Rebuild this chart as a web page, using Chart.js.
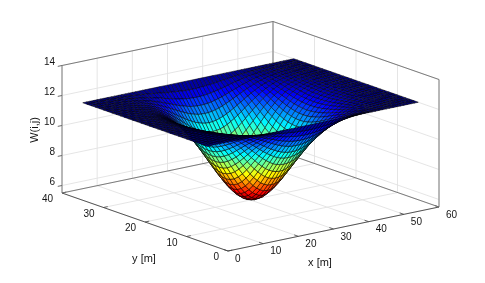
<!DOCTYPE html>
<html><head><meta charset="utf-8">
<style>html,body{margin:0;padding:0;background:#fff}canvas{display:block;filter:blur(0.35px)}</style>
<script src="https://cdn.jsdelivr.net/npm/chart.js@4"></script>
</head><body><canvas id="c" width="485" height="283"></canvas>
<script>
const xTicks=[0,10,20,30,40,50,60];
const yTicks=[0,10,20,30,40];
const zTicks=[6,8,10,12,14];
const xLabel='x [m]', yLabel='y [m]', zLabel='W(i,j)';
const xValues=[0,1,2,3,4,5,6,7,8,9,10,11,12,13,14,15,16,17,18,19,20,21,22,23,24,25,26,27,28,29,30,31,32,33,34,35,36,37,38,39,40,41,42,43,44,45,46,47,48,49,50,51,52,53,54,55,56,57,58,59,60];
const yValues=[5,6,7,8,9,10,11,12,13,14,15,16,17,18,19,20,21,22,23,24,25,26,27,28,29,30,31,32,33,34,35];
// W; rows = metres from the centre line in y (0..15), columns = metres from the centre line in x (0..30)
const W0=[5.55,5.59,5.71,5.91,6.17,6.49,6.86,7.26,7.69,8.13,8.56,8.99,9.40,9.77,10.12,10.44,10.71,10.96,11.16,11.34,11.48,11.60,11.69,11.77,11.83,11.87,11.91,11.93,11.95,11.97,12];
const W1=[5.62,5.66,5.78,5.97,6.23,6.55,6.91,7.32,7.74,8.17,8.60,9.02,9.43,9.80,10.14,10.45,10.73,10.97,11.17,11.34,11.49,11.60,11.70,11.77,11.83,11.88,11.91,11.94,11.95,11.97,12];
const W2=[5.81,5.85,5.96,6.15,6.40,6.71,7.07,7.45,7.86,8.28,8.70,9.11,9.50,9.86,10.20,10.50,10.77,11.00,11.20,11.36,11.50,11.62,11.71,11.78,11.84,11.88,11.91,11.94,11.96,11.97,12];
const W3=[6.12,6.16,6.27,6.44,6.68,6.98,7.31,7.68,8.07,8.47,8.87,9.26,9.63,9.97,10.29,10.58,10.83,11.05,11.24,11.39,11.53,11.64,11.72,11.79,11.84,11.89,11.92,11.94,11.96,11.97,12];
const W4=[6.53,6.56,6.67,6.83,7.05,7.33,7.64,7.98,8.34,8.72,9.09,9.45,9.79,10.11,10.41,10.67,10.91,11.11,11.29,11.44,11.56,11.66,11.74,11.80,11.85,11.89,11.92,11.94,11.96,11.97,12];
const W5=[7.01,7.04,7.13,7.28,7.49,7.74,8.02,8.34,8.67,9.00,9.34,9.67,9.99,10.28,10.55,10.79,11.01,11.19,11.35,11.49,11.60,11.69,11.76,11.82,11.87,11.90,11.93,11.95,11.96,11.98,12];
const W6=[7.55,7.58,7.66,7.80,7.98,8.20,8.45,8.73,9.03,9.33,9.63,9.92,10.20,10.46,10.71,10.92,11.11,11.28,11.42,11.54,11.64,11.72,11.79,11.84,11.88,11.91,11.94,11.96,11.97,11.98,12];
const W7=[8.10,8.12,8.20,8.31,8.47,8.67,8.89,9.14,9.39,9.66,9.92,10.18,10.43,10.65,10.87,11.06,11.22,11.37,11.49,11.60,11.69,11.76,11.81,11.86,11.90,11.92,11.95,11.96,11.97,11.98,12];
const W8=[8.66,8.68,8.74,8.84,8.98,9.15,9.34,9.55,9.77,10.00,10.22,10.44,10.65,10.85,11.03,11.19,11.33,11.46,11.57,11.66,11.73,11.79,11.84,11.88,11.91,11.93,11.95,11.97,11.98,11.98,12];
const W9=[9.20,9.22,9.27,9.35,9.47,9.61,9.77,9.94,10.13,10.32,10.51,10.69,10.87,11.03,11.19,11.32,11.44,11.55,11.64,11.71,11.77,11.83,11.87,11.90,11.93,11.95,11.96,11.97,11.98,11.99,12];
const W10=[9.69,9.70,9.75,9.82,9.91,10.03,10.16,10.30,10.46,10.61,10.77,10.92,11.07,11.20,11.33,11.44,11.54,11.63,11.70,11.76,11.81,11.86,11.89,11.92,11.94,11.95,11.97,11.98,11.98,11.99,12];
const W11=[10.20,10.21,10.24,10.30,10.37,10.46,10.57,10.68,10.80,10.92,11.04,11.16,11.27,11.38,11.48,11.56,11.64,11.71,11.77,11.81,11.85,11.89,11.91,11.94,11.95,11.96,11.97,11.98,11.99,11.99,12];
const W12=[10.65,10.66,10.68,10.72,10.78,10.85,10.92,11.01,11.10,11.19,11.28,11.37,11.46,11.53,11.61,11.67,11.73,11.78,11.82,11.86,11.89,11.92,11.94,11.95,11.96,11.97,11.98,11.99,11.99,11.99,12];
const W13=[11.09,11.10,11.11,11.14,11.18,11.22,11.27,11.33,11.39,11.45,11.52,11.58,11.63,11.69,11.74,11.78,11.82,11.85,11.88,11.91,11.93,11.94,11.96,11.97,11.98,11.98,11.99,11.99,12,12,12];
const W14=[11.53,11.53,11.54,11.56,11.58,11.60,11.63,11.65,11.69,11.72,11.75,11.78,11.81,11.84,11.86,11.89,11.91,11.92,11.94,11.95,11.96,11.97,11.98,11.98,11.99,11.99,12,12,12,12,12];
const W15=[12,12,12,12,12,12,12,12,12,12,12,12,12,12,12,12,12,12,12,12,12,12,12,12,12,12,12,12,12,12,12];
const quarter=[W0,W1,W2,W3,W4,W5,W6,W7,W8,W9,W10,W11,W12,W13,W14,W15];

const Z0=5.5, Wtop=12, Wlow=5.55;
function project(x,y,z){
  return {x:228+x*211/60-y*166/40, y:251-x*44/60-y*58/40-(z-Z0)*15};
}
function wAt(i,j){ return quarter[Math.abs(yValues[j]-20)][Math.abs(xValues[i]-30)]; }
function jet(c){
  const f=(v)=>Math.round(255*Math.max(0,Math.min(1,1.5-Math.abs(4*c-v))));
  return `rgb(${f(3)},${f(2)},${f(1)})`;
}
function seg(points,color,width){
  return {data:points,borderColor:color,borderWidth:width,pointRadius:0,fill:false,tension:0,clip:false};
}
const quads=[];
for(let j=0;j<yValues.length-1;j++){
  for(let i=0;i<xValues.length-1;i++){
    const cs=[[i,j],[i+1,j],[i+1,j+1],[i,j+1]];
    let sum=0; const pts=[];
    for(const [a,b] of cs){const w=wAt(a,b); sum+=w; pts.push(project(xValues[a],yValues[b],w));}
    pts.push(pts[0]);
    const mean=sum/4;
    const mx=(xValues[i]+xValues[i+1])/2,my=(yValues[j]+yValues[j+1])/2;
    quads.push({depth:4.15*mx+3.517*my-0.543*mean,
      ds:{data:pts,borderColor:'rgba(0,0,0,0.85)',borderWidth:0.6,backgroundColor:jet((Wtop-mean)/(Wtop-Wlow)),
          fill:'shape',pointRadius:0,tension:0,clip:false}});
  }
}
quads.sort((a,b)=>a.depth-b.depth);
const datasets=quads.map(q=>q.ds);

const GRID='#e2e2e2', BOX='#6f6f6f', AXIS='#444444';
const xMax=60,yMax=40,zMax=14;
const back=[];
for(const t of xTicks){
  back.push(seg([project(t,0,Z0),project(t,yMax,Z0),project(t,yMax,zMax)],GRID,0.9));
}
for(const t of yTicks){
  back.push(seg([project(0,t,Z0),project(xMax,t,Z0),project(xMax,t,zMax)],GRID,0.9));
}
for(const t of zTicks){
  back.push(seg([project(0,yMax,t),project(xMax,yMax,t),project(xMax,0,t)],GRID,0.9));
}
const box=[
  seg([project(0,yMax,zMax),project(xMax,yMax,zMax),project(xMax,0,zMax)],BOX,0.9),
  seg([project(0,yMax,Z0),project(0,yMax,zMax)],BOX,0.9),
  seg([project(xMax,yMax,Z0),project(xMax,yMax,zMax)],BOX,0.9),
  seg([project(xMax,0,Z0),project(xMax,0,zMax)],BOX,0.9),
  seg([project(0,yMax,Z0),project(xMax,yMax,Z0),project(xMax,0,Z0)],BOX,0.9),
  seg([project(0,yMax,Z0),project(0,0,Z0),project(xMax,0,Z0)],AXIS,0.9)
];
for(const t of xTicks) box.push(seg([project(t,0,Z0),project(t,1,Z0)],AXIS,0.8));
for(const t of yTicks) box.push(seg([project(0,t,Z0),project(1.2,t,Z0)],AXIS,0.8));
for(const t of zTicks) box.push(seg([project(0,yMax,t),project(-1.2,yMax,t)],AXIS,0.8));
datasets.push(...box,...back);

const labels3d={id:'labels3d',afterDraw(chart){
  const {ctx,scales:{x:sx,y:sy}}=chart;
  const at=(p)=>({x:sx.getPixelForValue(p.x),y:sy.getPixelForValue(p.y)});
  ctx.save();
  ctx.fillStyle='#141414';
  ctx.font='10px "Liberation Sans", Arial, sans-serif';
  ctx.textBaseline='middle';
  ctx.textAlign='left';
  for(const t of xTicks){const p=at(project(t,0,Z0));ctx.fillText(String(t),p.x+7,p.y+8);}
  ctx.textAlign='right';
  for(const t of yTicks){const p=at(project(0,t,Z0));ctx.fillText(String(t),p.x-9,p.y+6.5);}
  for(const t of zTicks){const p=at(project(0,yMax,t));ctx.fillText(String(t),p.x-7,p.y-3);}
  ctx.textAlign='center';
  ctx.font='11px "Liberation Sans", Arial, sans-serif';
  ctx.fillText(xLabel,320,263);
  ctx.fillText(yLabel,144,259);
  ctx.translate(35,130);ctx.rotate(-Math.PI/2);
  ctx.fillText(zLabel,0,0);
  ctx.restore();
}};
new Chart(document.getElementById('c'),{
  type:'line',
  data:{datasets},
  options:{
    responsive:false,animation:false,events:[],
    layout:{padding:0},
    plugins:{legend:{display:false},tooltip:{enabled:false},title:{display:false}},
    scales:{
      x:{type:'linear',min:0,max:485,display:false},
      y:{type:'linear',min:0,max:283,reverse:true,display:false}
    }
  },
  plugins:[labels3d]
});
</script></body></html>
